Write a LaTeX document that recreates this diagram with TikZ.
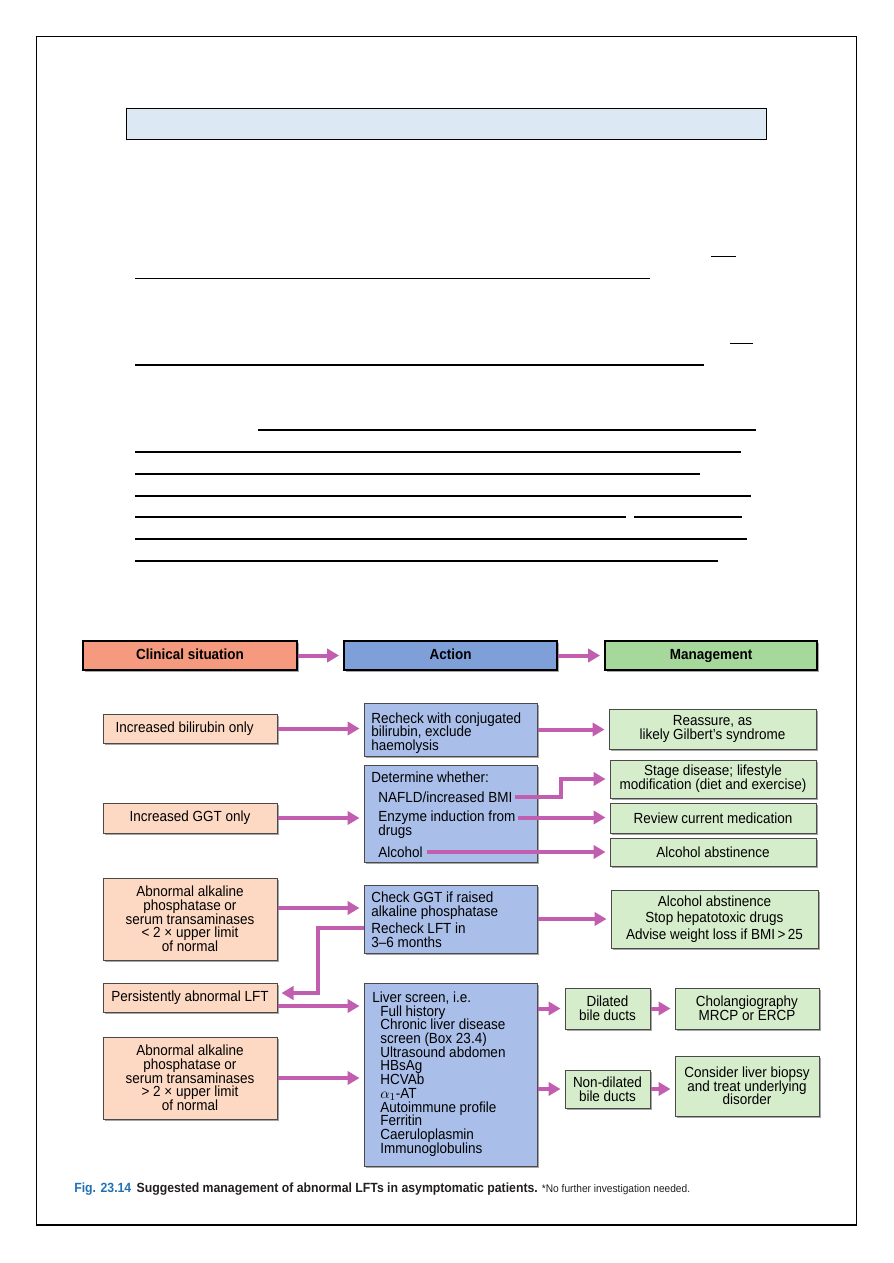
\documentclass[tikz,border=0pt]{standalone}
\usepackage{fontspec}
\setmainfont{Liberation Sans}[FakeStretch=0.92]
\usetikzlibrary{shadows,arrows.meta,calc}
\definecolor{clinH}{HTML}{F59A7E}
\definecolor{actH}{HTML}{7E9FD8}
\definecolor{mgmtH}{HTML}{A6D89C}
\definecolor{clinB}{HTML}{FDD9C4}
\definecolor{actB}{HTML}{A9BEE9}
\definecolor{mgmtB}{HTML}{D5EDCB}
\definecolor{arrC}{HTML}{C25EAF}
\definecolor{boxL}{HTML}{4A4A4A}
\definecolor{hdrblue}{HTML}{DDE8F5}
\definecolor{figblue}{HTML}{1F70B5}
\definecolor{captxt}{HTML}{231F20}
\newcommand{\fs}{\fontsize{11pt}{10.3pt}\selectfont}
% box from pixel corners: style, name, x1, y1, x2, y2, text
\newcommand{\bx}[7]{\node[#1, minimum width={(#5-#3)*0.75pt}, minimum height={(#6-#4)*0.75pt}] (#2) at ({(#3+#5)/2},{(#4+#6)/2}) {#7};}
\begin{document}
\begin{tikzpicture}[x=0.75pt,y=-0.75pt,
  box/.style={draw=boxL, line width=0.75pt, inner sep=0pt, align=center, font=\fs,
    drop shadow={shadow xshift=1.8pt, shadow yshift=-1.8pt, fill=black, opacity=0.35}},
  cbox/.style={box, fill=clinB},
  abox/.style={box, fill=actB},
  mbox/.style={box, fill=mgmtB},
  hdr/.style={draw=black, line width=1.4pt, inner sep=0pt, font=\fs\bfseries,
    text height=8pt, text depth=2.3pt,
    drop shadow={shadow xshift=1.8pt, shadow yshift=-1.8pt, fill=black, opacity=0.35}},
  txt/.style={inner sep=0pt, align=left, font=\fs, anchor=west},
  arr/.style={draw=arrC, line width=3pt, shorten >=3pt, -{Triangle[length=9pt,width=10pt]}},
  rule/.style={line width=0.9pt, black}
]
\useasboundingbox (0,0) rectangle (893,1263);
% page frame and top area
\draw[line width=0.9pt] (36.5,36.5) rectangle (856.5,1225);
\draw[line width=0.9pt, fill=hdrblue] (126.5,108.5) rectangle (766.5,139.5);
\draw[rule] (711,256.5) -- (736,256.5);
\draw[rule] (135,278.5) -- (650,278.5);
\draw[rule] (730,343.5) -- (752.5,343.5);
\draw[rule] (135,365) -- (704,365);
\draw[rule] (258,430) -- (755.5,430);
\draw[rule] (135,452) -- (740.5,452);
\draw[rule] (135,474) -- (700,474);
\draw[rule] (135,496) -- (750.5,496);
\draw[rule] (135,517) -- (625.5,517);
\draw[rule] (634,517) -- (742,517);
\draw[rule] (135,539) -- (746.5,539);
\draw[rule] (135,561) -- (718,561);

% headers
\bx{hdr, fill=clinH}{h1}{83}{641}{297}{670}{Clinical situation}
\bx{hdr, fill=actH}{h2}{344}{641}{557}{670}{Action}
\bx{hdr, fill=mgmtH}{h3}{605}{641}{817}{670}{Management}
\draw[arr] (h1.east) -- (h2.west);
\draw[arr] (h2.east) -- (h3.west);

% clinical situation column
\bx{cbox}{bil}{103}{714}{277}{743}{Increased bilirubin only\hspace*{8pt}}
\bx{cbox}{ggt}{103}{803}{277}{833}{Increased GGT only}
\bx{cbox}{ab1}{103}{878}{277}{960}{Abnormal alkaline\\phosphatase or\\serum transaminases\\< 2 × upper limit\\of normal}
\bx{cbox}{pers}{103}{983}{277}{1012}{Persistently abnormal LFT}
\bx{cbox}{ab2}{103}{1037}{277}{1119}{Abnormal alkaline\\phosphatase or\\serum transaminases\\> 2 × upper limit\\of normal}

% action column
\bx{abox}{rechk}{364}{703}{537}{756}{}
\node[txt] (rct) at (371,733) {Recheck with conjugated\\bilirubin, exclude\\haemolysis};
\bx{abox}{det}{364}{765}{537}{862}{}
\node[txt] (det0) at (371,777) {Determine whether:};
\node[txt] (nafld) at (378,797) {NAFLD/increased BMI};
\node[txt] (enz1) at (378,817.5) {Enzyme induction from};
\node[txt] (enz2) at (378,832) {drugs};
\node[txt] (alc) at (378,852) {Alcohol};
\bx{abox}{chk}{364}{885}{537}{953}{}
\node[txt] (chk0) at (371,906) {Check GGT if raised\\alkaline phosphatase};
\node[txt] (rl1) at (371,928) {Recheck LFT in};
\node[txt] (rl2) at (371,942.5) {3–6 months};
\bx{abox}{liver}{364}{983}{537}{1166}{}
\node[txt] (lvt) at (372,1074) {Liver screen, i.e.\\\hspace*{6pt}Full history\\\hspace*{6pt}Chronic liver disease\\\hspace*{6pt}screen (Box 23.4)\\\hspace*{6pt}Ultrasound abdomen\\\hspace*{6pt}HBsAg\\\hspace*{6pt}HCVAb\\\hspace*{6pt}$\alpha_1$-AT\\\hspace*{6pt}Autoimmune profile\\\hspace*{6pt}Ferritin\\\hspace*{6pt}Caeruloplasmin\\\hspace*{6pt}Immunoglobulins};

% management column
\bx{mbox}{reas}{609}{709}{816}{749}{Reassure, as\\likely Gilbert’s syndrome}
\bx{mbox}{stage}{610}{760}{816}{798}{Stage disease; lifestyle\\modification (diet and exercise)}
\bx{mbox}{review}{610}{803}{816}{833}{Review current medication}
\bx{mbox}{abst}{610}{838}{816}{866}{Alcohol abstinence}
\bx{mbox, font={\fontsize{11pt}{12.3pt}\selectfont}}{m2}{611}{890}{818}{948}{Alcohol abstinence\\Stop hepatotoxic drugs\\Advise weight loss if BMI\,>\,25}
\bx{mbox}{dil}{565}{988}{650}{1029}{Dilated\\bile ducts}
\bx{mbox}{chol}{675}{988}{819}{1029}{Cholangiography\\MRCP or ERCP}
\bx{mbox}{nd}{565}{1070}{650}{1108}{Non-dilated\\bile ducts}
\bx{mbox}{cons}{675}{1056}{819}{1116}{Consider liver biopsy\\and treat underlying\\disorder}

% connectors
\draw[arr] (bil.east) -- (bil.east -| rechk.west);
\draw[arr] (rechk.east) -- (rechk.east -| reas.west);
\draw[arr] (ggt.east) -- (ggt.east -| det.west);
\draw[arr] ($(nafld.east)+(2,0)$) -- ++(46,0) |- (stage.west);
\draw[arr] ($(enz1.east)+(2,0)$) -- (enz1.east -| review.west);
\draw[arr] ($(alc.east)+(4,0)$) -- (alc.east -| abst.west);
\draw[arr] ($(ab1.east)+(0,-11)$) -- ($(ab1.east -| chk.west)+(0,-11)$);
\draw[arr] (chk.east) -- (chk.east -| m2.west);
\draw[arr] (chk.west |- rl1.west) -- ++(-46,0) |- ($(pers.east)+(0,-4.5)$);
\draw[arr] ($(pers.east)+(0,8.5)$) -- ($(pers.east -| liver.west)+(0,8.5)$);
\draw[arr] (ab2.east) -- (ab2.east -| liver.west);
\draw[arr] (dil.west -| liver.east) -- (dil.west);
\draw[arr] (dil.east) -- (chol.west);
\draw[arr] (nd.west -| liver.east) -- (nd.west);
\draw[arr] (nd.east) -- (nd.east -| cons.west);

% caption
\node[anchor=base west, inner sep=0pt, text=captxt] (cap) at (74,1192)
  {{\fontsize{10pt}{11pt}\selectfont\bfseries\color{figblue}Fig. 23.14}\hspace{4pt}{\fontsize{10pt}{11pt}\selectfont\bfseries Suggested management of abnormal LFTs in asymptomatic patients.}\hspace{3pt}{\fontsize{8.3pt}{10pt}\selectfont *No further investigation needed.}};
\end{tikzpicture}
\end{document}
